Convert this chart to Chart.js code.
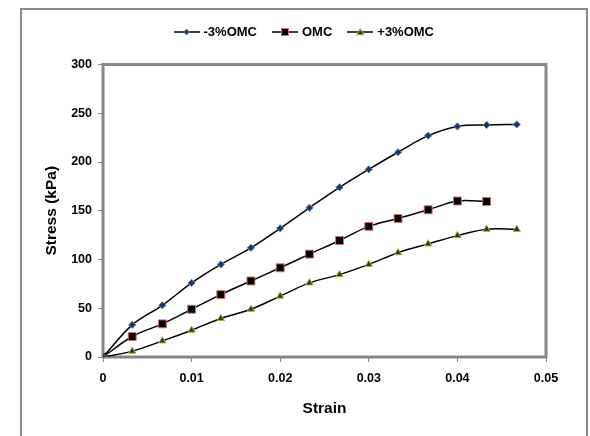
<!DOCTYPE html>
<html>
<head>
<meta charset="utf-8">
<script src="https://cdn.jsdelivr.net/npm/chart.js@4"></script>
<style>
  html, body { margin: 0; padding: 0; background: #fff; overflow: hidden; }
  #wrap { position: relative; width: 590px; height: 436px; }
  #frame { position: absolute; left: 20px; top: 8px; width: 568px; height: 440px;
           border: 2px solid #8a8a8a; border-bottom: none; box-sizing: border-box; }
  canvas { position: absolute; left: 0; top: 0; }
</style>
</head>
<body>
<div id="wrap">
  <div id="frame"></div>
  <canvas id="c" width="590" height="436"></canvas>
</div>
<script>
// Strain steps and measured stress (kPa) for each moisture condition
const strain = [0, 0.0033, 0.0067, 0.01, 0.0133, 0.0167, 0.02, 0.0233, 0.0267, 0.03, 0.0333, 0.0367, 0.04, 0.0433, 0.0467];
const seriesNames = ['-3%OMC', 'OMC', '+3%OMC'];
const stressMinus3 = [0, 33, 53, 76, 95, 112, 132, 153, 174, 192.5, 210, 227, 236.5, 238, 238.5];
const stressOMC    = [0, 21, 34, 49, 64, 78, 91.5, 105.5, 119.5, 134, 142, 151, 160, 159.5];
const stressPlus3  = [0, 6, 16.5, 27.5, 39.5, 49, 62.5, 76, 84.5, 95, 107, 116, 124.5, 131, 131];
const xTickLabels = ['0', '0.01', '0.02', '0.03', '0.04', '0.05'];
const yTickLabels = ['0', '50', '100', '150', '200', '250', '300'];

const FONT = "'Liberation Sans', Arial, sans-serif";
const AXIS_GREY = '#868686';

const markerStyles = [
  { pointStyle: 'rectRot',  radius: 3.6, fill: '#1b355c', stroke: '#5b86c0' },
  { pointStyle: 'rect',     radius: 5.6, fill: '#000000', stroke: '#d07070' },
  { pointStyle: 'triangle', radius: 4.2, fill: '#2f3a10', stroke: '#9bbb59' }
];

function toPoints(values) {
  return values.map((v, i) => ({ x: strain[i], y: v }));
}

// Legend icons: short black line with the series marker in the middle
function legendIcon(style) {
  const w = 26, h = 12;
  const cv = document.createElement('canvas');
  cv.width = w; cv.height = h;
  const g = cv.getContext('2d');
  g.strokeStyle = '#000';
  g.lineWidth = 1.5;
  g.beginPath(); g.moveTo(0, h / 2); g.lineTo(w, h / 2); g.stroke();
  g.fillStyle = style.fill;
  g.strokeStyle = style.stroke;
  g.lineWidth = 1;
  const cx = w / 2, cy = h / 2;
  g.beginPath();
  if (style.pointStyle === 'rectRot') {
    const r = 3;
    g.moveTo(cx, cy - r); g.lineTo(cx + r, cy); g.lineTo(cx, cy + r); g.lineTo(cx - r, cy); g.closePath();
  } else if (style.pointStyle === 'rect') {
    const s = 3.5;
    g.rect(cx - s, cy - s, 2 * s, 2 * s);
  } else {
    const r = 3.5;
    g.moveTo(cx, cy - r); g.lineTo(cx + r, cy + r * 0.8); g.lineTo(cx - r, cy + r * 0.8); g.closePath();
  }
  g.fill(); g.stroke();
  return cv;
}
const legendIcons = markerStyles.map(legendIcon);

const allSeries = [stressMinus3, stressOMC, stressPlus3];
const datasets = allSeries.map((vals, i) => ({
  label: seriesNames[i],
  data: toPoints(vals),
  showLine: true,
  borderColor: '#000',
  borderWidth: 1.5,
  tension: 0.35,
  pointStyle: markerStyles[i].pointStyle,
  pointRadius: markerStyles[i].radius,
  pointHoverRadius: markerStyles[i].radius,
  pointBackgroundColor: markerStyles[i].fill,
  pointBorderColor: markerStyles[i].stroke,
  pointBorderWidth: 1,
  backgroundColor: markerStyles[i].fill
}));

// Grey frame round the plot area
const plotFrame = {
  id: 'plotFrame',
  beforeDatasetsDraw(chart) {
    const { ctx, chartArea: a } = chart;
    ctx.save();
    ctx.strokeStyle = AXIS_GREY;
    ctx.lineWidth = 3;
    ctx.strokeRect(a.left, a.top, a.right - a.left, a.bottom - a.top);
    ctx.restore();
  }
};

// Extra space under the legend, and a small sideways nudge of the legend row
const legendSpacing = {
  id: 'legendSpacing',
  beforeInit(chart) {
    const legend = chart.legend;
    const fit = legend.fit;
    legend.fit = function () { fit.call(this); this.height += 16; };
    const draw = legend.draw;
    legend.draw = function () {
      const ctx = this.ctx;
      ctx.save();
      ctx.translate(14, 0);
      draw.call(this);
      ctx.restore();
    };
  }
};

new Chart(document.getElementById('c'), {
  type: 'scatter',
  data: { datasets },
  plugins: [plotFrame, legendSpacing],
  options: {
    responsive: false,
    animation: false,
    layout: { padding: { left: 36, right: 44, top: 8, bottom: 10 } },
    plugins: {
      tooltip: { enabled: false },
      legend: {
        position: 'top',
        labels: {
          usePointStyle: true,
          pointStyleWidth: 21,
          padding: 17.5,
          color: '#000',
          font: { family: FONT, size: 13, weight: 'bold' },
          generateLabels(chart) {
            const items = Chart.defaults.plugins.legend.labels.generateLabels(chart);
            items.forEach((it, i) => { it.pointStyle = legendIcons[i]; });
            return items;
          }
        }
      }
    },
    scales: {
      x: {
        type: 'linear',
        min: 0, max: 0.05,
        afterFit(scale) { scale.height = 69; },
        afterBuildTicks(scale) {
          scale.ticks = xTickLabels.map(t => ({ value: parseFloat(t) }));
        },
        ticks: {
          padding: 9,
          color: '#000',
          font: { family: FONT, size: 12.5, weight: 'bold' },
          callback: (v, i) => xTickLabels[i]
        },
        grid: { drawOnChartArea: false, drawTicks: true, tickLength: 5, color: AXIS_GREY, lineWidth: 1 },
        border: { display: false },
        title: {
          display: true, text: 'Strain', color: '#000',
          font: { family: FONT, size: 15.5, weight: 'bold' },
          padding: { top: 0, bottom: 8 }
        }
      },
      y: {
        min: 0, max: 300,
        afterFit(scale) { scale.width = 67; },
        afterBuildTicks(scale) {
          scale.ticks = yTickLabels.map(t => ({ value: parseFloat(t) }));
        },
        ticks: {
          padding: 6,
          color: '#000',
          font: { family: FONT, size: 12.5, weight: 'bold' },
          callback: (v, i) => yTickLabels[i]
        },
        grid: { drawOnChartArea: false, drawTicks: true, tickLength: 5, color: AXIS_GREY, lineWidth: 1 },
        border: { display: false },
        title: {
          display: true, text: 'Stress (kPa)', color: '#000',
          font: { family: FONT, size: 15.5, weight: 'bold' },
          padding: { top: 6, bottom: 0 }
        }
      }
    }
  }
});
</script>
</body>
</html>
